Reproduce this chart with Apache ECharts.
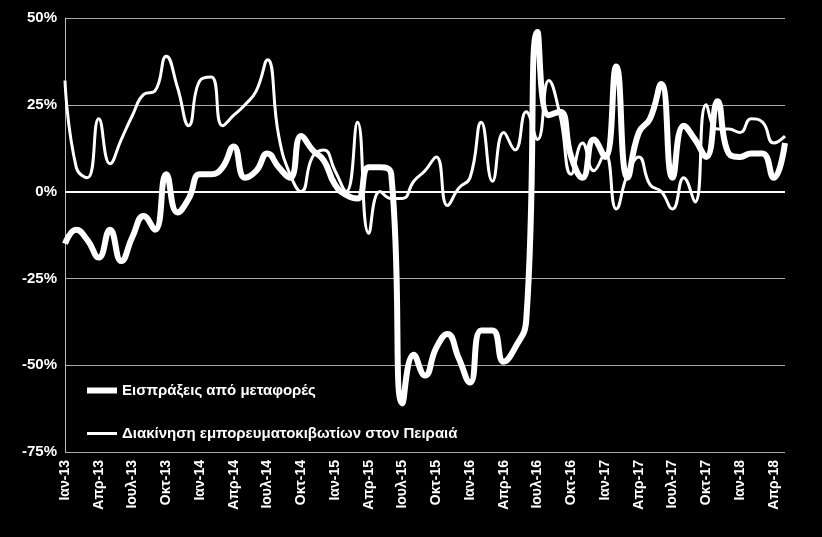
<!DOCTYPE html>
<html><head><meta charset="utf-8">
<script src="https://cdn.jsdelivr.net/npm/echarts@6/dist/echarts.min.js"></script>
<style>html,body{margin:0;background:#000}#c{width:822px;height:537px}</style>
</head><body><div id="c"></div>
<script>
const months = ['Ιαν','Φεβ','Μαρ','Απρ','Μαϊ','Ιουν','Ιουλ','Αυγ','Σεπ','Οκτ','Νοε','Δεκ'];
const categories = [];
for (let y = 13; y <= 18; y++) for (let m = 0; m < 12; m++) { if (y === 18 && m > 4) break; categories.push(months[m] + '-' + y); }
const revenue = [-15,-11,-14,-19,-11,-20,-13,-7,-11,5,-6,-2,5,5,7,13,4,6,11,7,4,16,12,9,2,-1,-2,7,7,5,-61,-47,-53,-45,-41,-48,-55,-40,-40,-49,-45,-37,46,22,23,10,4,15,10,36,4,17,21,31,4,19,15,10,26,11,10,11,11,4,14];
const containers = [32,7,4,21,8,15,22,28,29,39,30,19,32,33,19,22,25,29,38,16,5,0,10,12,6,0,20,-12,0,-2,-2,3,6,10,-4,1,4,20,3,17,12,23,15,32,22,5,14,6,11,-5,5,10,2,0,-5,4,-3,25,18,18,17,21,20,14,16];
const yTicks = [-75,-50,-25,0,25,50];
const names = ['Εισπράξεις από μεταφορές','Διακίνηση εμπορευματοκιβωτίων στον Πειραιά'];
const font = 'Liberation Sans';
const chart = echarts.init(document.getElementById('c'));
chart.setOption({
  backgroundColor:'#000', animation:false,
  textStyle:{fontFamily:font},
  grid:{left:65,right:37,top:18,bottom:85},
  legend:[
    {data:[names[0]],left:82,top:378,orient:'vertical',icon:'rect',itemWidth:30,itemHeight:6,
     textStyle:{color:'#fff',fontSize:15,fontWeight:'bold',fontFamily:font}},
    {data:[names[1]],left:82,top:421,orient:'vertical',icon:'rect',itemWidth:30,itemHeight:3,
     textStyle:{color:'#fff',fontSize:15,fontWeight:'bold',fontFamily:font}}
  ],
  xAxis:{type:'category',data:categories,boundaryGap:false,
    axisLine:{show:false},axisTick:{show:false},
    axisLabel:{interval:2,rotate:90,color:'#fff',fontWeight:'bold',fontSize:14,fontFamily:font,margin:8}},
  yAxis:{type:'value',min:-75,max:50,interval:25,
    axisLine:{show:true,lineStyle:{color:'#bbb'}},
    axisLabel:{color:'#fff',fontSize:15,fontWeight:'bold',fontFamily:font,formatter:v=>yTicks.includes(v)?v+'%':''},
    splitLine:{lineStyle:{color:'#aaa',width:1}}},
  series:[
    {name:names[0],type:'line',data:revenue,smooth:0.5,symbol:'none',lineStyle:{color:'#fff',width:6},itemStyle:{color:'#fff'},z:3},
    {name:names[1],type:'line',data:containers,smooth:0.5,symbol:'none',lineStyle:{color:'#fff',width:3},itemStyle:{color:'#fff'},z:4,
     markLine:{silent:true,symbol:'none',label:{show:false},lineStyle:{color:'#fff',width:2,type:'solid'},data:[{yAxis:0}]}}
  ]
});
</script></body></html>
